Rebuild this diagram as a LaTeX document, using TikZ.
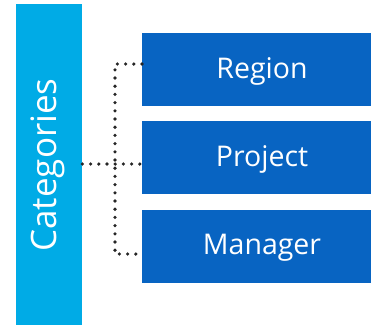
\documentclass[tikz,border=0pt]{standalone}
\usepackage{fontspec}
\setmainfont{Open Sans}
\definecolor{barcyan}{RGB}{0,171,230}
\definecolor{boxblue}{RGB}{8,100,194}
\begin{document}
\begin{tikzpicture}[x=1pt,y=-1pt,
  catbar/.style={fill=barcyan,draw=none,minimum width=66pt,minimum height=321pt,inner sep=0pt,anchor=north west},
  itembox/.style={fill=boxblue,draw=none,minimum width=229pt,minimum height=73pt,inner sep=0pt,anchor=north west},
  itemtext/.style={text=white,font=\fontsize{28.5}{32}\selectfont},
  dotline/.style={draw=black!85,line width=3.6pt,line cap=round,dash pattern=on 0pt off 8.2pt}]
\useasboundingbox (0,0) rectangle (371,325);
\node[catbar] (cat) at (16,4) {};
\node[rotate=90,text=white,font=\fontsize{35}{40}\selectfont] (catlabel) at (48,165) {Categories};
\node[itembox] (region) at (142,33) {};
\node[itemtext] (regionlabel) at (262,71) {Region};
\node[itembox] (project) at (142,121) {};
\node[itemtext] (projectlabel) at (262,159) {Project};
\node[itembox] (manager) at (142,210) {};
\node[itemtext] (managerlabel) at (262,248) {Manager};
\coordinate (jt) at (115,64);
\coordinate (jm) at (115,164);
\coordinate (jb) at (115,254);
\draw[dotline] (cat.east |- jm) -- (project.west |- jm);
\draw[dotline] (region.west |- jt) -- (jt) -- (jb) -- (manager.west |- jb);
\end{tikzpicture}
\end{document}
